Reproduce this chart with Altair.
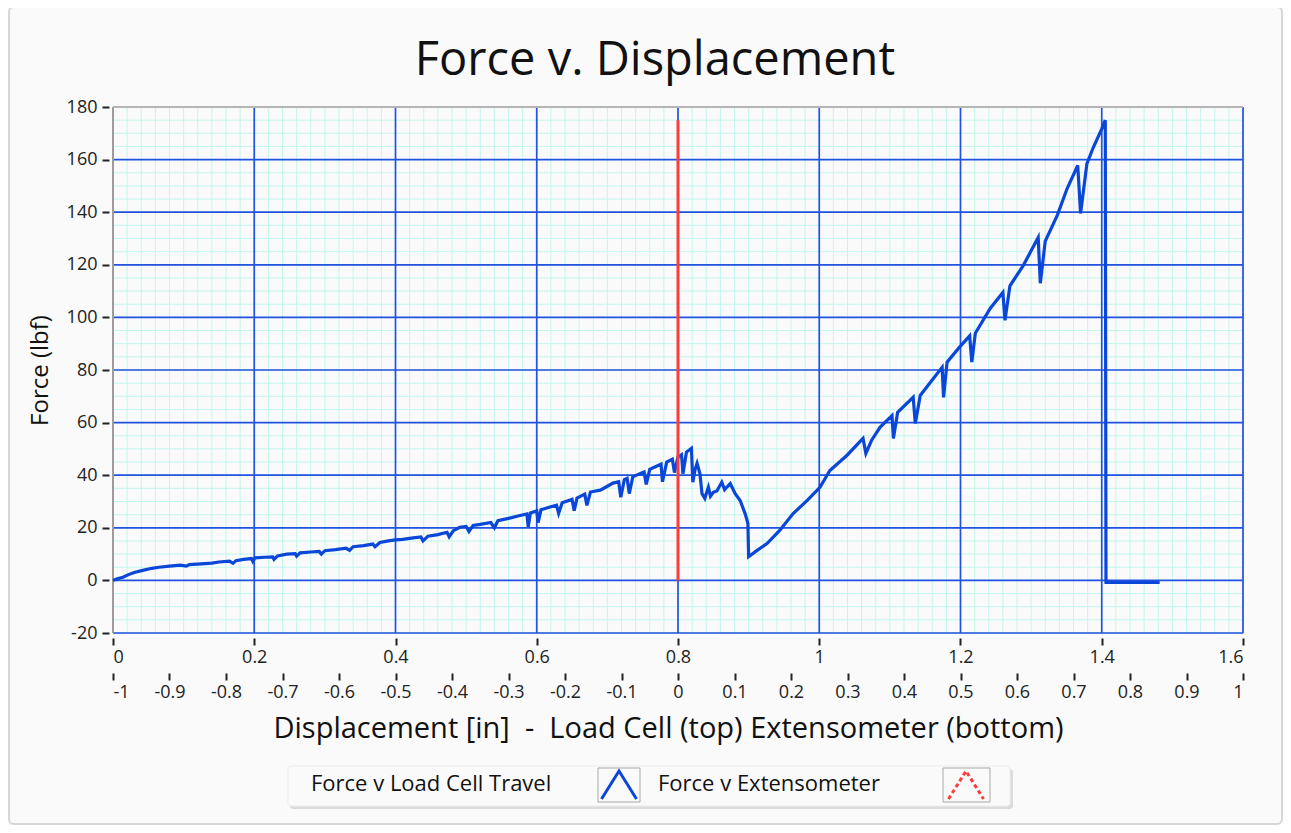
import altair as alt
import pandas as pd

# ---- Force v Load Cell Travel (blue) ----
travel_in = [
    0.000, 0.006, 0.014, 0.022, 0.030, 0.042, 0.055, 0.065, 0.080, 0.095,
    0.104, 0.108, 0.125, 0.140, 0.150, 0.165, 0.170, 0.174, 0.185, 0.196,
    0.198, 0.201, 0.215, 0.226, 0.228, 0.233, 0.246, 0.258, 0.260, 0.265,
    0.280, 0.292, 0.295, 0.300, 0.315, 0.330, 0.335, 0.340, 0.355, 0.368,
    0.371, 0.378, 0.390, 0.400,
    0.410, 0.425, 0.436, 0.439, 0.446, 0.460, 0.473, 0.476, 0.482, 0.491,
    0.500, 0.504, 0.510, 0.520, 0.535, 0.540, 0.545, 0.560, 0.575, 0.586,
    0.588, 0.591, 0.600, 0.602, 0.606, 0.620, 0.628, 0.631, 0.636, 0.650,
    0.653, 0.657, 0.668, 0.671, 0.676, 0.690, 0.700, 0.708, 0.716, 0.719,
    0.724, 0.728, 0.731, 0.736, 0.746, 0.752, 0.755, 0.760, 0.768, 0.776,
    0.778, 0.784, 0.792, 0.795, 0.800, 0.805, 0.807, 0.812, 0.819,
    0.821, 0.824, 0.827, 0.831, 0.834, 0.838, 0.843, 0.846, 0.850, 0.855,
    0.862, 0.866, 0.869, 0.874, 0.881, 0.888, 0.895, 0.899, 0.900, 0.912,
    0.926, 0.944, 0.963, 0.983, 1.001, 1.015, 1.039, 1.062, 1.066, 1.074,
    1.086, 1.103, 1.105, 1.111, 1.133, 1.136, 1.143, 1.158, 1.174, 1.176,
    1.181, 1.198, 1.213, 1.216, 1.221, 1.242, 1.260, 1.263, 1.270, 1.289,
    1.310, 1.313, 1.320, 1.337, 1.351, 1.366, 1.370, 1.379, 1.388, 1.400,
    1.405, 1.406, 1.482,
]
force_lbf = [
    0.0, 0.6, 1.2, 2.2, 3.0, 3.8, 4.6, 5.0, 5.4, 5.8,
    5.4, 6.0, 6.3, 6.6, 7.0, 7.3, 6.5, 7.5, 8.0, 8.3,
    7.2, 8.6, 8.8, 8.9, 8.0, 9.3, 10.0, 10.2, 9.2, 10.5,
    10.8, 11.0, 10.0, 11.3, 11.7, 12.3, 11.4, 12.8, 13.2, 13.8,
    12.8, 14.4, 15.0, 15.4,
    15.6, 16.2, 16.5, 15.0, 16.8, 17.4, 18.3, 16.6, 18.9, 20.2,
    20.5, 18.6, 20.9, 21.3, 22.0, 20.0, 22.7, 23.6, 24.6, 25.3,
    20.4, 25.6, 26.4, 22.0, 26.9, 28.0, 28.6, 25.5, 29.5, 30.8,
    26.5, 31.3, 32.8, 28.5, 33.6, 34.3, 35.8, 37.0, 37.5, 31.6,
    38.3, 38.8, 33.0, 39.4, 40.6, 41.2, 36.5, 42.2, 43.2, 44.2,
    37.5, 45.0, 46.1, 41.0, 47.0, 47.8, 40.6, 48.8, 50.2,
    37.3, 42.0, 44.5, 40.6, 33.0, 31.2, 35.4, 32.0, 33.5, 34.0,
    37.3, 34.5, 35.4, 36.8, 33.0, 30.4, 25.4, 21.6, 9.0, 11.4,
    14.0, 19.0, 25.4, 30.4, 35.4, 41.8, 47.5, 54.0, 48.3, 53.2,
    58.2, 62.7, 54.0, 63.9, 69.6, 59.7, 70.3, 75.5, 81.0, 69.6,
    83.0, 88.5, 93.0, 83.0, 94.0, 103.4, 109.5, 98.9, 112.0, 119.8,
    130.4, 113.0, 129.0, 138.8, 149.0, 157.8, 139.5, 158.5, 164.6, 171.7,
    175.0, -0.8, -0.8,
]

# ---- Force v Extensometer (red) ----
ext_in = [0.0, 0.0]
ext_force = [0.0, 175.0]

# ---- ticks / grid ----
x_major = [0, 0.2, 0.4, 0.6, 0.8, 1.0, 1.2, 1.4, 1.6]
x_minor = [round(i * 0.02, 2) for i in range(81)]
y_major = [-20, 0, 20, 40, 60, 80, 100, 120, 140, 160, 180]
y_minor = list(range(-20, 181, 5))
ext_ticks = [-1, -0.9, -0.8, -0.7, -0.6, -0.5, -0.4, -0.3, -0.2, -0.1, 0,
             0.1, 0.2, 0.3, 0.4, 0.5, 0.6, 0.7, 0.8, 0.9, 1]

TITLE = "Force v. Displacement"
X_TITLE = "Displacement [in] \u00a0-\u00a0 Load Cell (top) Extensometer (bottom)"
Y_TITLE = "Force (lbf)"
LEG1 = "Force v Load Cell Travel"
LEG2 = "Force v Extensometer"

W, H = 1130, 526
FONT = "Open Sans"
BLUE = "#0a47d8"
GRID_BLUE = "#2152e0"
MINOR = "#c2f6ee"
RED = "#ff3c3c"
BG = "#fafafa"

blue_df = pd.DataFrame({"travel": travel_in, "force": force_lbf,
                        "i": list(range(len(travel_in)))})
red_df = pd.DataFrame({"ext": ext_in, "force": ext_force})
dummy = pd.DataFrame({"k": [0]})

xs = alt.Scale(domain=[0, 1.6], nice=False, zero=False)
ys = alt.Scale(domain=[-20, 180], nice=False, zero=False)
es = alt.Scale(domain=[-1, 1], nice=False, zero=False)

x_axis = alt.Axis(values=x_major, orient="bottom", offset=5, domain=False, grid=False,
                  tickSize=7, tickWidth=2, tickColor="#222", labelFontSize=18,
                  labelColor="#222", labelFont=FONT, labelPadding=3, title=None,
                  zindex=1,
                  labelExpr="replace(format(datum.value, '.1~f'), '\u2212', '-')")
y_axis = alt.Axis(values=y_major, orient="left", offset=4, domain=False, grid=False,
                  tickSize=7, tickWidth=2, tickColor="#222", labelFontSize=18,
                  labelColor="#222", labelFont=FONT, labelPadding=5, zindex=1,
                  labelExpr="replace(format(datum.value, 'd'), '\u2212', '-')",
                  title=Y_TITLE, titleFont=FONT, titleFontSize=24,
                  titleFontWeight="normal", titleColor="#111", titlePadding=14)
e_axis = alt.Axis(values=ext_ticks, orient="bottom", offset=40, domain=False, grid=False,
                  tickSize=7, tickWidth=2, tickColor="#222", labelFontSize=18,
                  labelColor="#222", labelFont=FONT, labelPadding=3, zindex=1,
                  labelExpr="replace(format(datum.value, '.1~f'), '\u2212', '-')",
                  title=X_TITLE, titleFont=FONT, titleFontSize=29,
                  titleFontWeight="normal", titleColor="#111", titlePadding=13,
                  titleX=555, titleAlign="center")

frame = alt.Chart(dummy).mark_rect(fillOpacity=0, stroke="#d6d6d6", strokeWidth=2,
                                   cornerRadius=5).encode(
    x=alt.value(-104), x2=alt.value(W + 39), y=alt.value(-100), y2=alt.value(H + 191))

title_txt = alt.Chart(dummy).mark_text(text=TITLE, align="center", baseline="alphabetic",
                                       font=FONT, fontSize=47, color="#111").encode(
    x=alt.value(542), y=alt.value(-32))

plot_bg = alt.Chart(dummy).mark_rect(fill=BG).encode(
    x=alt.value(0), x2=alt.value(W), y=alt.value(0), y2=alt.value(H))

minor_x = alt.Chart(pd.DataFrame({"travel": x_minor})).mark_rule(
    color=MINOR, strokeWidth=1).encode(x=alt.X("travel:Q", scale=xs, axis=None))
minor_y = alt.Chart(pd.DataFrame({"force": y_minor})).mark_rule(
    color=MINOR, strokeWidth=1).encode(y=alt.Y("force:Q", scale=ys, axis=y_axis))
major_x = alt.Chart(pd.DataFrame({"travel": x_major})).mark_rule(
    color=GRID_BLUE, strokeWidth=1.7).encode(x=alt.X("travel:Q", scale=xs, axis=None))
major_y = alt.Chart(pd.DataFrame({"force": y_major})).mark_rule(
    color=GRID_BLUE, strokeWidth=1.7).encode(y=alt.Y("force:Q", scale=ys, axis=y_axis))

left_border = alt.Chart(dummy).mark_rule(color="#9c9c9c", strokeWidth=2).encode(
    x=alt.value(0), y=alt.value(0), y2=alt.value(H))
top_border = alt.Chart(dummy).mark_rule(color="#b4b4b4", strokeWidth=2).encode(
    x=alt.value(0), x2=alt.value(W), y=alt.value(0))

blue = alt.Chart(blue_df).mark_line(color=BLUE, strokeWidth=3.2, strokeJoin="miter").encode(
    x=alt.X("travel:Q", scale=xs, axis=x_axis),
    y=alt.Y("force:Q", scale=ys, axis=y_axis),
    order="i:Q")

red = alt.Chart(red_df).mark_line(color=RED, strokeWidth=3).encode(
    x=alt.X("ext:Q", scale=es, axis=e_axis),
    y=alt.Y("force:Q", scale=ys, axis=y_axis))

# ---- legend (drawn below the axes) ----
leg_shadow = alt.Chart(dummy).mark_rect(fill="#d4d4d4", cornerRadius=3, opacity=0.8).encode(
    x=alt.value(177), x2=alt.value(900), y=alt.value(662), y2=alt.value(702))
leg_box = alt.Chart(dummy).mark_rect(fill=BG, stroke="#ececec", cornerRadius=3).encode(
    x=alt.value(175), x2=alt.value(897), y=alt.value(659), y2=alt.value(699))
icon_box1 = alt.Chart(dummy).mark_rect(fill=BG, stroke="#a8a8a8", strokeWidth=1).encode(
    x=alt.value(485), x2=alt.value(527), y=alt.value(661), y2=alt.value(695))
icon_box2 = alt.Chart(dummy).mark_rect(fill=BG, stroke="#a8a8a8", strokeWidth=1).encode(
    x=alt.value(830), x2=alt.value(877), y=alt.value(661), y2=alt.value(695))
chev = "M-1,0.8L0,-0.8L1,0.8"
icon1 = alt.Chart(dummy).mark_point(shape=chev, size=1225, filled=False, color=BLUE,
                                    strokeWidth=3, opacity=1).encode(
    x=alt.value(506), y=alt.value(678))
icon2 = alt.Chart(dummy).mark_point(shape=chev, size=1225, filled=False, color=RED,
                                    strokeWidth=3, strokeDash=[4, 3], opacity=1).encode(
    x=alt.value(853), y=alt.value(678))
leg_txt1 = alt.Chart(dummy).mark_text(text=LEG1, align="left",
                                      baseline="middle", font=FONT, fontSize=22,
                                      color="#111").encode(
    x=alt.value(198), y=alt.value(677))
leg_txt2 = alt.Chart(dummy).mark_text(text=LEG2, align="left",
                                      baseline="middle", font=FONT, fontSize=22,
                                      color="#111").encode(
    x=alt.value(545), y=alt.value(677))

chart = alt.layer(
    frame, title_txt, plot_bg, minor_x, minor_y, major_x, major_y, left_border, top_border,
    blue, red, leg_shadow, leg_box, icon_box1, icon_box2, icon1, icon2,
    leg_txt1, leg_txt2,
).resolve_scale(x="independent").properties(
    width=W, height=H,
    autosize=alt.AutoSizeParams(type="none"),
    padding={"left": 105, "top": 99, "right": 40, "bottom": 192},
).configure_view(stroke=None).configure(background=BG)

chart.save("out.html", embed_options={"renderer": "svg", "actions": False})
